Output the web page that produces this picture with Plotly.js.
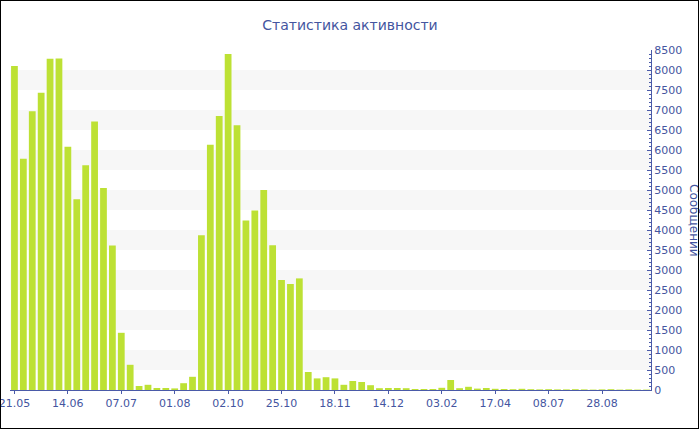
<!DOCTYPE html>
<html>
<head>
<meta charset="utf-8">
<script src="https://cdn.plot.ly/plotly-3.0.1.min.js"></script>
<style>
  html, body { margin: 0; padding: 0; background: #fff; }
  #wrap { position: relative; width: 700px; height: 430px; }
  #chart { width: 700px; height: 430px; }
  #frame { position: absolute; left: 0; top: 0; width: 699px; height: 429px; box-sizing: border-box; border: 1px solid #000; pointer-events: none; }
</style>
</head>
<body>
<div id="wrap"><div id="chart"></div><div id="frame"></div></div>
<script>
// Categories (dates)
const dates = [
  "21.05.2012","25.05.2012","29.05.2012","02.06.2012","06.06.2012","10.06.2012",
  "14.06.2012","18.06.2012","22.06.2012","26.06.2012","29.06.2012","03.07.2012",
  "07.07.2012","11.07.2012","15.07.2012","19.07.2012","23.07.2012","27.07.2012",
  "01.08.2012","11.08.2012","21.08.2012","31.08.2012","10.09.2012","20.09.2012",
  "02.10.2012","06.10.2012","10.10.2012","14.10.2012","17.10.2012","21.10.2012",
  "25.10.2012","29.10.2012","02.11.2012","06.11.2012","10.11.2012","14.11.2012",
  "18.11.2012","22.11.2012","26.11.2012","30.11.2012","04.12.2012","09.12.2012",
  "14.12.2012","22.12.2012","30.12.2012","07.01.2013","16.01.2013","25.01.2013",
  "03.02.2013","15.02.2013","27.02.2013","11.03.2013","23.03.2013","04.04.2013",
  "17.04.2013","01.05.2013","15.05.2013","29.05.2013","12.06.2013","26.06.2013",
  "08.07.2013","15.07.2013","22.07.2013","31.07.2013","10.08.2013","19.08.2013",
  "28.08.2013","07.09.2013","17.09.2013","27.09.2013","07.10.2013","17.10.2013"
];

// Messages per period
const messages = [
  8100, 5780, 6970, 7430, 8280, 8290,
  6080, 4770, 5620, 6710, 5050, 3610,
  1430, 630, 100, 130, 50, 50,
  40, 170, 330, 3870, 6130, 6850,
  8400, 6620, 4240, 4490, 5000, 3620,
  2750, 2650, 2790, 450, 290, 320,
  290, 130, 225, 200, 120, 45,
  50, 50, 45, 25, 25, 25,
  55, 250, 45, 80, 35, 50,
  30, 25, 20, 30, 20, 15,
  20, 15, 15, 20, 15, 10,
  15, 20, 10, 15, 10, 10
];

// Tick labels shown on the x axis
const tickDates = ["21.05.2012","14.06.2012","07.07.2012","01.08.2012","02.10.2012","25.10.2012",
                   "18.11.2012","14.12.2012","03.02.2013","17.04.2013","08.07.2013","28.08.2013"];
const tickLabels = ["21.05","14.06","07.07","01.08","02.10","25.10","18.11","14.12","03.02","17.04","08.07","28.08"];

const titleText = "Статистика активности";
const yTitleText = "Сообщений";

const textColor = "#4455a0";
const axisColor = "#4a5aa8";
const barColor = "#bde134";

const bands = [];
for (let v = 500; v < 8500; v += 1000) {
  bands.push({type: "rect", xref: "paper", yref: "y", x0: 0, x1: 1, y0: v, y1: v + 500,
              fillcolor: "#f7f7f7", line: {width: 0}, layer: "below"});
}

const trace = {
  type: "bar",
  x: dates,
  y: messages,
  marker: {color: barColor, line: {width: 0}},
  hoverinfo: "x+y"
};

const layout = {
  width: 700, height: 430,
  margin: {l: 10, r: 49, t: 50, b: 40},
  paper_bgcolor: "#fff", plot_bgcolor: "#fff",
  font: {family: "DejaVu Sans, Verdana, sans-serif", size: 11, color: textColor},
  title: {text: titleText, font: {size: 14, color: textColor, family: "DejaVu Sans, Verdana, sans-serif"},
          x: 0.5, xanchor: "center", y: 1 - 25/430, yanchor: "middle", yref: "container"},
  bargap: 0.24,
  showlegend: false,
  xaxis: {
    type: "category", range: [-0.5, dates.length - 0.5],
    tickmode: "array", tickvals: tickDates, ticktext: tickLabels,
    showline: true, linecolor: axisColor, linewidth: 1,
    ticks: "outside", ticklen: 3, tickcolor: axisColor, tickwidth: 1,
    showgrid: false, zeroline: false, fixedrange: true,
    tickfont: {size: 11, color: textColor}
  },
  yaxis: {
    side: "right", range: [0, 8500], dtick: 500, tick0: 0,
    showline: true, linecolor: axisColor, linewidth: 1,
    ticks: "inside", ticklen: 4, tickcolor: axisColor, tickwidth: 1,
    minor: {dtick: 100, ticks: "inside", ticklen: 2, tickcolor: axisColor, showgrid: false},
    showgrid: false, zeroline: false, fixedrange: true,
    tickfont: {size: 11, color: textColor}
  },
  shapes: bands,
  annotations: [{
    text: yTitleText, textangle: 90, xref: "paper", yref: "paper",
    x: 1, y: 0.5, xanchor: "center", yanchor: "middle", xshift: 43, showarrow: false,
    font: {size: 12, color: textColor}
  }]
};

Plotly.newPlot("chart", [trace], layout, {displayModeBar: false, staticPlot: true});
</script>
</body>
</html>
